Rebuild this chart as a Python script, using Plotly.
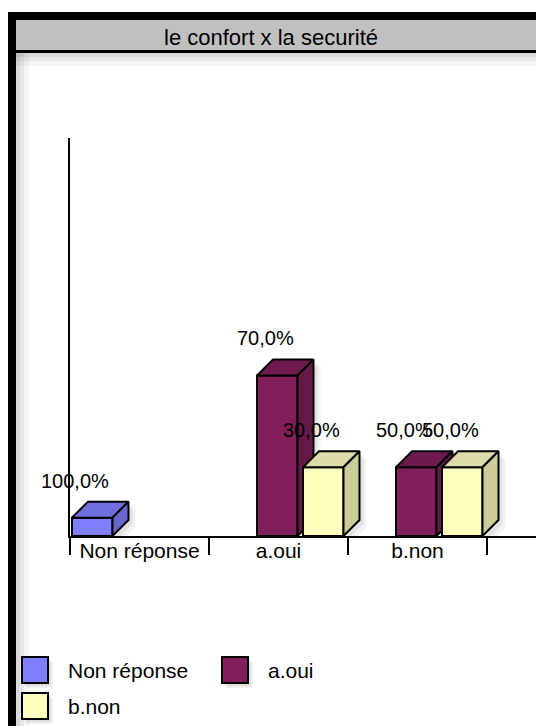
import plotly.graph_objects as go

# ---------------- data ----------------
categories = ["Non réponse", "a.oui", "b.non"]
series_names = ["Non réponse", "a.oui", "b.non"]
values_non_reponse = [0.8, None, None]
values_oui = [None, 7, 3]
values_non = [None, 3, 3]
labels_non_reponse = ["100,0%", None, None]
labels_oui = [None, "70,0%", "50,0%"]
labels_non = [None, "30,0%", "50,0%"]
title_text = "le confort x la securité"

series_values = [values_non_reponse, values_oui, values_non]
series_labels = [labels_non_reponse, labels_oui, labels_non]

front_colors = ["#8080ff", "#801f5c", "#ffffc0"]
top_colors = ["#6f6fe0", "#6e1a50", "#dcdcaa"]
side_colors = ["#6666cc", "#661a4a", "#cccc99"]

FONT = "Liberation Sans, Arial, sans-serif"

# ---------------- geometry ----------------
W, H = 536, 726
L, T, R, B = 70, 138, 0, 190
plot_w = W - L - R
plot_h = H - T - B
cat_px = 139.0          # pixels per category
unit_px = 22.93         # pixels per value unit
x_range = [-0.5, -0.5 + plot_w / cat_px]
y_range = [0, plot_h / unit_px]

slot_start_px = 2.0
slot_step_px = 46.0
bar_w_px = 40.5
depth_x = 16.0 / cat_px
depth_y = 16.0 / unit_px

cat_pos = list(range(len(categories)))
boundaries = [c - 0.5 for c in cat_pos] + [cat_pos[-1] + 0.5]


def pxx(px):
    return (px - L) / plot_w


def pxy(py):
    return (H - B - py) / plot_h


fig = go.Figure()

# shadows first
for ci in cat_pos:
    for si in range(len(series_names)):
        v = series_values[si][ci]
        if v is None:
            continue
        x0 = ci - 0.5 + (slot_start_px + slot_step_px * si) / cat_px
        x1 = x0 + bar_w_px / cat_px
        for k, op in [(7, 0.05), (4, 0.06)]:
            sx = k / cat_px
            sy = -k / unit_px
            xs = [x0 + sx, x0 + sx, x0 + depth_x + sx, x1 + depth_x + sx, x1 + depth_x + sx, x1 + sx, x0 + sx]
            ys = [0 + sy, v + sy, v + depth_y + sy, v + depth_y + sy, depth_y + sy, 0 + sy, 0 + sy]
            fig.add_trace(go.Scatter(x=xs, y=ys, mode="lines", fill="toself",
                                     fillcolor=f"rgba(0,0,0,{op})", line=dict(width=0),
                                     showlegend=False, hoverinfo="skip"))

# 3D bars, drawn left to right
for ci in cat_pos:
    for si in range(len(series_names)):
        v = series_values[si][ci]
        if v is None:
            continue
        x0 = ci - 0.5 + (slot_start_px + slot_step_px * si) / cat_px
        x1 = x0 + bar_w_px / cat_px
        faces = [
            ([x0, x1, x1, x0, x0], [0, 0, v, v, 0], front_colors[si]),
            ([x0, x1, x1 + depth_x, x0 + depth_x, x0], [v, v, v + depth_y, v + depth_y, v], top_colors[si]),
            ([x1, x1 + depth_x, x1 + depth_x, x1, x1], [0, depth_y, v + depth_y, v, 0], side_colors[si]),
        ]
        for xs, ys, col in faces:
            fig.add_trace(go.Scatter(x=xs, y=ys, mode="lines", fill="toself",
                                     fillcolor=col, line=dict(color="black", width=2),
                                     name=series_names[si], showlegend=False,
                                     hoverinfo="skip"))
        lab = series_labels[si][ci]
        if lab:
            fig.add_annotation(x=x1 - 1.5 / cat_px, y=v, text=lab, showarrow=False,
                               xanchor="right", yanchor="middle", yshift=37,
                               font=dict(family=FONT, size=20, color="black"))

shapes = []
# frame shadow
for k, op in [(4, 0.06), (8, 0.05), (13, 0.04)]:
    shapes.append(dict(type="rect", xref="paper", yref="paper", x0=pxx(16), x1=pxx(16 + k),
                       y0=pxy(726), y1=pxy(53), fillcolor=f"rgba(0,0,0,{op})", line=dict(width=0), layer="below"))
    shapes.append(dict(type="rect", xref="paper", yref="paper", x0=pxx(16), x1=pxx(540),
                       y0=pxy(53 + k), y1=pxy(53), fillcolor=f"rgba(0,0,0,{op})", line=dict(width=0), layer="below"))
# title bar
shapes.append(dict(type="rect", xref="paper", yref="paper", x0=pxx(8), x1=pxx(540), y0=pxy(20), y1=pxy(12),
                   fillcolor="black", line=dict(width=0)))
shapes.append(dict(type="rect", xref="paper", yref="paper", x0=pxx(16), x1=pxx(540), y0=pxy(50), y1=pxy(20),
                   fillcolor="#c0c0c0", line=dict(width=0)))
shapes.append(dict(type="rect", xref="paper", yref="paper", x0=pxx(16), x1=pxx(540), y0=pxy(53), y1=pxy(50),
                   fillcolor="black", line=dict(width=0)))
# left border
shapes.append(dict(type="rect", xref="paper", yref="paper", x0=pxx(8), x1=pxx(16), y0=pxy(730), y1=pxy(12),
                   fillcolor="black", line=dict(width=0)))

# legend (manual)
leg_cols = [22, 222]
leg_rows = [657, 693]
sq = 26
for si, name in enumerate(series_names):
    cx = leg_cols[si % 2]
    ry = leg_rows[si // 2]
    for k, op in [(5, 0.06), (3, 0.07)]:
        shapes.append(dict(type="rect", xref="paper", yref="paper", x0=pxx(cx + k), x1=pxx(cx + sq + k),
                           y0=pxy(ry + sq + k), y1=pxy(ry + k), fillcolor=f"rgba(0,0,0,{op})",
                           line=dict(width=0)))
    shapes.append(dict(type="rect", xref="paper", yref="paper", x0=pxx(cx), x1=pxx(cx + sq),
                       y0=pxy(ry + sq), y1=pxy(ry), fillcolor=front_colors[si],
                       line=dict(color="black", width=2)))
    fig.add_annotation(xref="paper", yref="paper", x=pxx(cx + 44), y=pxy(ry + sq / 2), text=name,
                       showarrow=False, xanchor="left", yanchor="middle",
                       font=dict(family=FONT, size=21, color="black"))

# title
fig.add_annotation(xref="paper", yref="paper", x=pxx(271), y=pxy(37), text=title_text, showarrow=False,
                   xanchor="center", yanchor="middle", font=dict(family=FONT, size=22, color="black"))

fig.update_layout(
    width=W, height=H,
    margin=dict(l=L, r=R, t=T, b=B, pad=0),
    paper_bgcolor="white", plot_bgcolor="white",
    showlegend=False,
    shapes=shapes,
    xaxis=dict(type="linear", tickmode="array", tickvals=cat_pos, ticktext=categories,
               range=x_range, ticks="outside", ticklen=17, tickwidth=2,
               tickcolor="rgba(0,0,0,0)",
               minor=dict(tickmode="array", tickvals=boundaries, ticks="outside", ticklen=17,
                          tickwidth=2, tickcolor="black", showgrid=False),
               showline=True, linecolor="black", linewidth=2,
               showgrid=False, zeroline=False, ticklabelstandoff=-22,
               tickfont=dict(family=FONT, size=21, color="black"), fixedrange=True),
    yaxis=dict(range=y_range, showline=True, linecolor="black", linewidth=2, showgrid=False,
               zeroline=False, showticklabels=False, ticks="", fixedrange=True),
)

fig.write_html("out.html")
